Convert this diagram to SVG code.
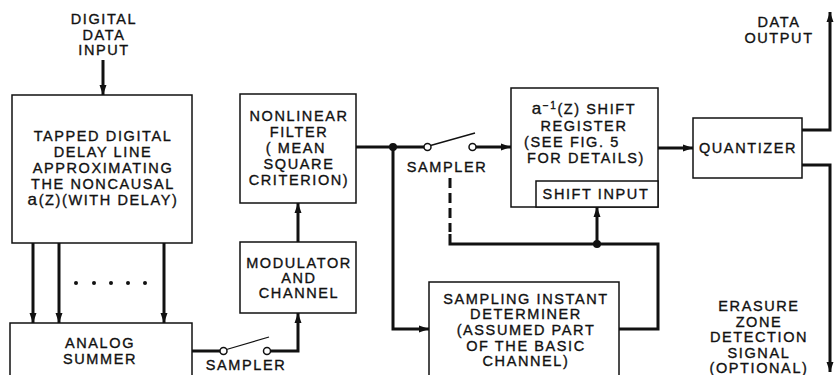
<svg xmlns="http://www.w3.org/2000/svg" width="835" height="375" viewBox="0 0 835 375">
<defs>
<style>
.box{fill:#fff;stroke:#111;stroke-width:1.5}
.wire{fill:none;stroke:#111;stroke-width:3}
.thin{fill:none;stroke:#111;stroke-width:1.3}
.dash{fill:none;stroke:#111;stroke-width:3;stroke-dasharray:10 5}
.t{font-family:"Liberation Sans",Arial,sans-serif;font-size:14.5px;letter-spacing:1.6px;fill:#111;stroke:#111;stroke-width:0.35;text-anchor:middle}
.sw{fill:#fff;stroke:#111;stroke-width:1.5}
.dot{fill:#111}
</style>
<marker id="ah" viewBox="0 0 10 8" refX="10" refY="4" markerWidth="11" markerHeight="8" markerUnits="userSpaceOnUse" orient="auto">
<path d="M0,0.5 L10,4 L0,7.5 Z" fill="#111"/>
</marker>
</defs>
<rect width="835" height="375" fill="#fff"/>

<g id="connectors">
<path class="wire" d="M103,60 V95" marker-end="url(#ah)"/>
<path class="wire" d="M33,243 V323" marker-end="url(#ah)"/>
<path class="wire" d="M59,243 V323" marker-end="url(#ah)"/>
<path class="wire" d="M164,243 V323" marker-end="url(#ah)"/>
<circle class="dot" cx="76" cy="283" r="2"/>
<circle class="dot" cx="94" cy="283" r="2"/>
<circle class="dot" cx="111" cy="283" r="2"/>
<circle class="dot" cx="128" cy="283" r="2"/>
<circle class="dot" cx="145" cy="283" r="2"/>
<path class="wire" d="M192,351 H220"/>
<path class="wire" d="M270.5,351 H298 V313" marker-end="url(#ah)"/>
<path class="thin" d="M226.5,349.5 L269,337"/>
<circle class="sw" cx="223.5" cy="351" r="3.5"/>
<circle class="sw" cx="267" cy="351" r="3.5"/>
<path class="wire" d="M298,242 V203" marker-end="url(#ah)"/>
<path class="wire" d="M356,147 H424"/>
<path class="wire" d="M393,147 V329 H429" marker-end="url(#ah)"/>
<circle class="dot" cx="393" cy="147" r="4"/>
<path class="thin" d="M430.5,145.5 L475,133"/>
<circle class="sw" cx="427.5" cy="147" r="3.5"/>
<circle class="sw" cx="472.5" cy="147" r="3.5"/>
<path class="wire" d="M476,147 H511" marker-end="url(#ah)"/>
<path class="dash" d="M450,178 V232"/>
<path class="wire" d="M450,234 V244 H658 V329 H619"/>
<circle class="dot" cx="597" cy="244" r="4"/>
<path class="wire" d="M597,244 V207" marker-end="url(#ah)"/>
<path class="wire" d="M658,148 H693" marker-end="url(#ah)"/>
<path class="wire" d="M802,130 H830 V12" marker-end="url(#ah)"/>
<path class="wire" d="M802,165 H830 V372" marker-end="url(#ah)"/>
</g>

<g id="labels">
<text class="t" x="104" y="24">DIGITAL</text>
<text class="t" x="104" y="40">DATA</text>
<text class="t" x="104" y="55">INPUT</text>
<text class="t" x="246" y="370">SAMPLER</text>
<text class="t" x="447" y="172">SAMPLER</text>
<text class="t" x="779" y="27">DATA</text>
<text class="t" x="779" y="43">OUTPUT</text>
<text class="t" x="759" y="311">ERASURE</text>
<text class="t" x="759" y="327">ZONE</text>
<text class="t" x="759" y="342">DETECTION</text>
<text class="t" x="759" y="358">SIGNAL</text>
<text class="t" x="759" y="373">(OPTIONAL)</text>
</g>

<g id="delay-line">
<rect class="box" x="12" y="95" width="180" height="148"/>
<text class="t" x="103" y="141">TAPPED DIGITAL</text>
<text class="t" x="103" y="157">DELAY LINE</text>
<text class="t" x="103" y="173">APPROXIMATING</text>
<text class="t" x="103" y="189">THE NONCAUSAL</text>
<text class="t" x="103" y="205"><tspan font-size="17">a</tspan>(Z)(WITH DELAY)</text>
</g>

<g id="analog-summer">
<rect class="box" x="10" y="323" width="182" height="60"/>
<text class="t" x="100" y="348">ANALOG</text>
<text class="t" x="100" y="364">SUMMER</text>
</g>

<g id="modulator">
<rect class="box" x="240" y="242" width="116" height="71"/>
<text class="t" x="299" y="268">MODULATOR</text>
<text class="t" x="299" y="283">AND</text>
<text class="t" x="299" y="298">CHANNEL</text>
</g>

<g id="nonlinear-filter">
<rect class="box" x="240" y="94" width="116" height="109"/>
<text class="t" x="299" y="121">NONLINEAR</text>
<text class="t" x="299" y="137">FILTER</text>
<text class="t" x="296" y="153">( MEAN</text>
<text class="t" x="299" y="169">SQUARE</text>
<text class="t" x="299" y="185">CRITERION)</text>
</g>

<g id="shift-register">
<rect class="box" x="511" y="88" width="147" height="119"/>
<rect class="box" x="536" y="181" width="122" height="26"/>
<text class="t" x="584" y="114"><tspan font-size="17">a</tspan><tspan font-size="10" dy="-5">−1</tspan><tspan dy="5">(Z) SHIFT</tspan></text>
<text class="t" x="584" y="131">REGISTER</text>
<text class="t" x="572" y="147">(SEE FIG. 5</text>
<text class="t" x="586" y="163">FOR DETAILS)</text>
<text class="t" x="596" y="199">SHIFT INPUT</text>
</g>

<g id="quantizer">
<rect class="box" x="693" y="118" width="109" height="60"/>
<text class="t" x="748" y="153">QUANTIZER</text>
</g>

<g id="sampling-instant">
<rect class="box" x="429" y="282" width="190" height="100"/>
<text class="t" x="526" y="304">SAMPLING INSTANT</text>
<text class="t" x="526" y="319">DETERMINER</text>
<text class="t" x="526" y="335">(ASSUMED PART</text>
<text class="t" x="526" y="351">OF THE BASIC</text>
<text class="t" x="526" y="366">CHANNEL)</text>
</g>
</svg>
